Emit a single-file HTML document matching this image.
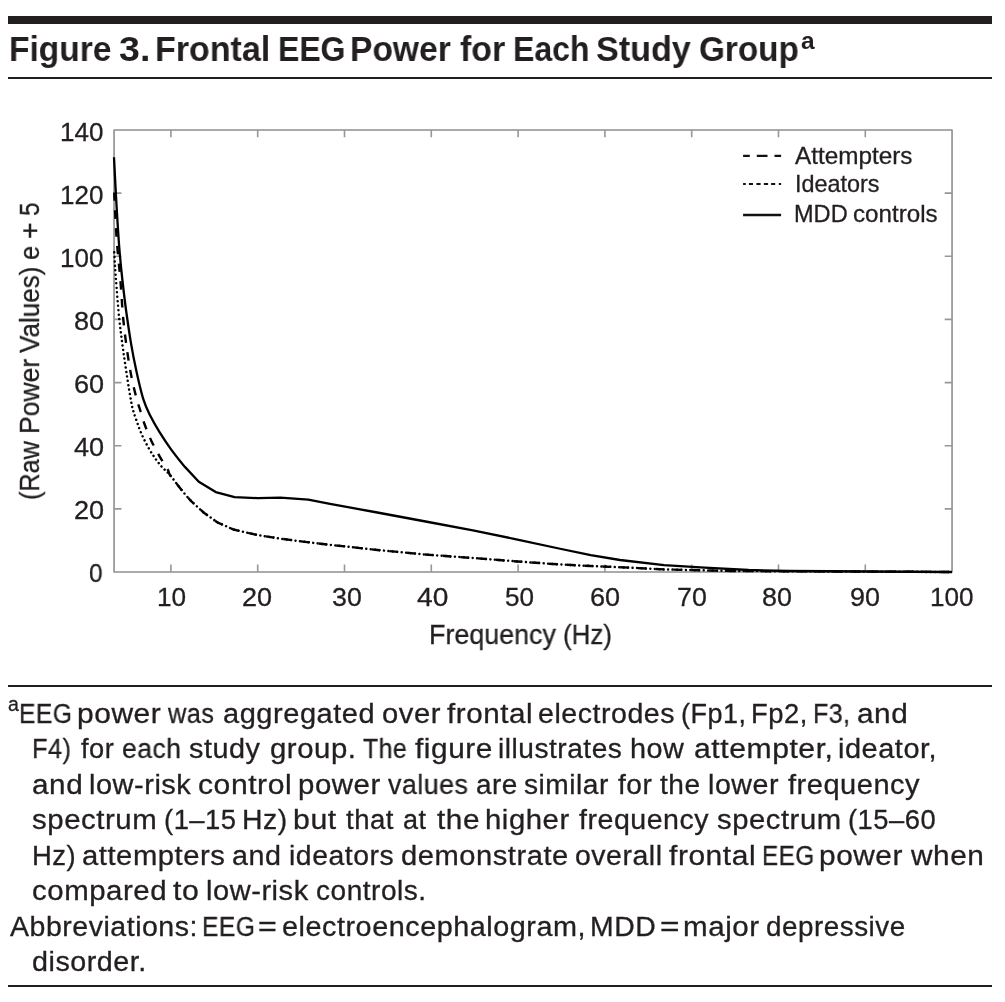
<!DOCTYPE html>
<html><head><meta charset="utf-8"><title>Figure 3</title>
<style>
html,body{margin:0;padding:0;background:#fff;}
body{width:1005px;height:1002px;position:relative;overflow:hidden;font-family:"Liberation Sans",sans-serif;color:#231f20;}
.t{position:absolute;white-space:nowrap;line-height:normal;margin:0;padding:0;will-change:transform;-webkit-text-stroke:0.3px #231f20;}
.sup{position:relative;}
.bar{position:absolute;left:8px;width:983.5px;background:#231f20;}
.yl{position:absolute;left:0;top:500px;width:320px;height:60px;transform:rotate(-90deg);transform-origin:0 0;}
svg{position:absolute;left:0;top:0;}
</style></head><body>
<div class="bar" style="top:16px;height:8px;"></div>
<div class="bar" style="top:76.8px;height:2px;"></div>
<div class="bar" style="top:685.3px;height:2px;"></div>
<div class="bar" style="top:985.3px;height:2px;"></div>
<svg width="1005" height="1002" viewBox="0 0 1005 1002">
<rect x="114.05" y="129.95" width="838.0" height="442.1" fill="none" stroke="#8e8e8e" stroke-width="1.6" stroke-linejoin="round"/>
<path d="M170.9,572.0 v-7.4 M170.9,129.95 v7.4" stroke="#979797" stroke-width="1.6" fill="none"/>
<path d="M257.7,572.0 v-7.4 M257.7,129.95 v7.4" stroke="#979797" stroke-width="1.6" fill="none"/>
<path d="M344.5,572.0 v-7.4 M344.5,129.95 v7.4" stroke="#979797" stroke-width="1.6" fill="none"/>
<path d="M431.3,572.0 v-7.4 M431.3,129.95 v7.4" stroke="#979797" stroke-width="1.6" fill="none"/>
<path d="M518.1,572.0 v-7.4 M518.1,129.95 v7.4" stroke="#979797" stroke-width="1.6" fill="none"/>
<path d="M604.9,572.0 v-7.4 M604.9,129.95 v7.4" stroke="#979797" stroke-width="1.6" fill="none"/>
<path d="M691.7,572.0 v-7.4 M691.7,129.95 v7.4" stroke="#979797" stroke-width="1.6" fill="none"/>
<path d="M778.5,572.0 v-7.4 M778.5,129.95 v7.4" stroke="#979797" stroke-width="1.6" fill="none"/>
<path d="M865.3,572.0 v-7.4 M865.3,129.95 v7.4" stroke="#979797" stroke-width="1.6" fill="none"/>
<path d="M114.05,508.9 h7.4 M952.08,508.9 h-7.4" stroke="#979797" stroke-width="1.6" fill="none"/>
<path d="M114.05,445.7 h7.4 M952.08,445.7 h-7.4" stroke="#979797" stroke-width="1.6" fill="none"/>
<path d="M114.05,382.6 h7.4 M952.08,382.6 h-7.4" stroke="#979797" stroke-width="1.6" fill="none"/>
<path d="M114.05,319.4 h7.4 M952.08,319.4 h-7.4" stroke="#979797" stroke-width="1.6" fill="none"/>
<path d="M114.05,256.2 h7.4 M952.08,256.2 h-7.4" stroke="#979797" stroke-width="1.6" fill="none"/>
<path d="M114.05,193.1 h7.4 M952.08,193.1 h-7.4" stroke="#979797" stroke-width="1.6" fill="none"/>
<path d="M114.0,248.5 C114.2,251.2 114.7,259.8 115.0,265.0 C115.3,270.2 115.3,271.1 116.0,280.0 C116.7,288.9 118.0,306.6 119.2,318.3 C120.4,330.0 121.8,339.7 123.2,350.3 C124.7,360.9 126.6,373.8 127.9,382.2 C129.2,390.6 130.2,395.9 131.0,400.5 C131.8,405.1 132.0,406.4 133.0,410.0 C134.0,413.6 135.6,418.0 137.0,422.0 C138.4,426.0 139.7,429.8 141.5,433.9 C143.3,438.0 145.8,442.9 148.0,446.9 C150.2,450.9 152.6,454.6 154.9,457.9 C157.2,461.2 159.4,464.1 161.9,466.9 C164.4,469.7 166.9,471.4 169.9,474.9 C172.9,478.4 176.2,483.2 179.8,487.7 C183.4,492.1 187.7,497.5 191.7,501.6 L203.6,512.5 L217.6,522.5 L233.5,529.5 L257.4,535.0 L281.2,538.8 L309.1,542.4 L330.0,544.8 L377.3,550.0 L428.3,554.8 L472.9,558.0 L517.5,561.5 L558.9,564.4 L590.7,566.0 L620.0,567.2 L664.0,569.4 L731.6,571.0 L952.0,572.0" fill="none" stroke="#000" stroke-width="2.5" stroke-linecap="round" stroke-dasharray="0.01 4.44" stroke-dashoffset="-3.95"/>
<path d="M114.0,188.7 C114.4,195.9 115.5,220.4 116.2,232.0 C116.9,243.6 117.6,250.0 118.3,258.0 C119.0,266.0 119.6,269.9 120.4,280.0 C121.2,290.1 122.1,306.6 123.2,318.3 C124.3,330.0 125.6,340.2 127.1,350.3 C128.5,360.4 130.2,370.7 131.9,379.0 C133.6,387.3 135.7,395.2 137.0,400.0 C138.3,404.8 138.2,404.0 139.5,408.0 C140.8,412.0 142.5,418.5 144.5,424.0 C146.5,429.5 148.8,435.4 151.4,440.9 C154.0,446.4 157.2,452.1 159.9,456.9 C162.7,461.7 166.2,466.9 167.9,469.9 C169.6,472.9 167.9,471.9 169.9,474.9 C171.9,477.9 176.2,483.2 179.8,487.7 C183.4,492.1 187.7,497.5 191.7,501.6 L203.6,512.5 L217.6,522.5 L233.5,529.5 L257.4,535.0 L281.2,538.8 L309.1,542.4 L330.0,544.8 L377.3,550.0 L428.3,554.8 L472.9,558.0 L517.5,561.5 L558.9,564.4 L590.7,566.0 L620.0,567.2 L664.0,569.4 L731.6,571.0 L952.0,572.0" fill="none" stroke="#000" stroke-width="2.4" stroke-dasharray="8.5 9.3" stroke-dashoffset="-3.8"/>
<path d="M114.0,157.2 C114.4,165.2 115.6,189.9 116.5,205.0 C117.4,220.1 118.3,235.5 119.3,248.0 C120.3,260.5 121.2,269.3 122.4,280.0 C123.6,290.7 124.8,301.4 126.3,312.0 C127.8,322.6 129.4,333.8 131.1,343.9 C132.8,354.0 134.7,363.4 136.7,372.6 C138.7,381.8 141.1,392.1 143.3,399.2 C145.5,406.3 147.2,409.6 149.9,415.0 C152.6,420.4 155.8,426.1 159.4,431.9 C163.0,437.7 167.2,444.1 171.4,449.9 C175.7,455.7 180.3,461.6 184.9,466.9 L198.8,481.8 L215.7,492.1 L234.6,497.1 L257.5,498.1 L280.4,497.7 L308.3,499.7 L330.0,503.8 L377.3,512.5 L428.3,522.0 L472.9,530.3 L517.5,539.6 L558.9,548.5 L590.7,555.2 L620.0,560.0 L664.0,565.2 L704.6,567.7 L748.6,570.0 L789.0,571.0 L952.0,572.0" fill="none" stroke="#000" stroke-width="2.3" stroke-linejoin="round"/>
<path d="M743.1,155.9 H749.8 M756.8,155.9 H767.5 M774.5,155.9 H781.1" stroke="#111" stroke-width="2.1" fill="none"/>
<path d="M743.1,183.9 H745.8 M748.9,183.9 H753 M756.4,183.9 H760.6 M763.9,183.9 H768.1 M771.1,183.9 H775.2 M778.8,183.9 H781.1" stroke="#111" stroke-width="2.0" fill="none"/>
<path d="M743.1,215 H781.1" stroke="#111" stroke-width="2.4" fill="none"/>
</svg>
<div class="t" style="top:29.27px;font-size:35.5px;left:8.51px;font-weight:bold;-webkit-text-stroke:0;transform:scaleX(0.9438);transform-origin:0 0;">Figure</div>
<div class="t" style="top:29.27px;font-size:35.5px;left:118.54px;font-weight:bold;-webkit-text-stroke:0;transform:scaleX(1.0577);transform-origin:0 0;">3.</div>
<div class="t" style="top:29.27px;font-size:35.5px;left:154.78px;font-weight:bold;-webkit-text-stroke:0;transform:scaleX(0.9578);transform-origin:0 0;">Frontal</div>
<div class="t" style="top:29.27px;font-size:35.5px;left:277.55px;font-weight:bold;-webkit-text-stroke:0;transform:scaleX(0.9000);transform-origin:0 0;">EEG</div>
<div class="t" style="top:29.27px;font-size:35.5px;left:349.81px;font-weight:bold;-webkit-text-stroke:0;transform:scaleX(0.9462);transform-origin:0 0;">Power</div>
<div class="t" style="top:29.27px;font-size:35.5px;left:459.84px;font-weight:bold;-webkit-text-stroke:0;transform:scaleX(0.9565);transform-origin:0 0;">for</div>
<div class="t" style="top:29.27px;font-size:35.5px;left:512.60px;font-weight:bold;-webkit-text-stroke:0;transform:scaleX(0.9000);transform-origin:0 0;">Each</div>
<div class="t" style="top:29.27px;font-size:35.5px;left:596.24px;font-weight:bold;-webkit-text-stroke:0;transform:scaleX(0.9619);transform-origin:0 0;">Study</div>
<div class="t" style="top:29.27px;font-size:35.5px;left:699.26px;font-weight:bold;-webkit-text-stroke:0;transform:scaleX(0.9385);transform-origin:0 0;">Group</div>
<div class="t" style="top:26.93px;font-size:24.5px;left:800.60px;font-weight:bold;-webkit-text-stroke:0;">a</div>
<div class="t" style="top:558.42px;font-size:26px;left:89.26px;transform:scaleX(0.9385);transform-origin:0 0;">0</div>
<div class="t" style="top:495.35px;font-size:26px;left:73.86px;transform:scaleX(1.0407);transform-origin:0 0;">20</div>
<div class="t" style="top:432.28px;font-size:26px;left:73.86px;transform:scaleX(1.0407);transform-origin:0 0;">40</div>
<div class="t" style="top:369.21px;font-size:26px;left:73.86px;transform:scaleX(1.0407);transform-origin:0 0;">60</div>
<div class="t" style="top:306.13px;font-size:26px;left:73.86px;transform:scaleX(1.0407);transform-origin:0 0;">80</div>
<div class="t" style="top:243.06px;font-size:26px;left:60.00px;transform:scaleX(1.0000);transform-origin:0 0;">100</div>
<div class="t" style="top:179.99px;font-size:26px;left:60.00px;transform:scaleX(1.0000);transform-origin:0 0;">120</div>
<div class="t" style="top:116.92px;font-size:26px;left:60.00px;transform:scaleX(1.0000);transform-origin:0 0;">140</div>
<div class="t" style="top:582.37px;font-size:26px;left:156.58px;transform:scaleX(1.0077);transform-origin:0 0;">10</div>
<div class="t" style="top:582.37px;font-size:26px;left:242.16px;transform:scaleX(1.0407);transform-origin:0 0;">20</div>
<div class="t" style="top:582.37px;font-size:26px;left:331.77px;transform:scaleX(1.0296);transform-origin:0 0;">30</div>
<div class="t" style="top:582.37px;font-size:26px;left:417.02px;transform:scaleX(1.0815);transform-origin:0 0;">40</div>
<div class="t" style="top:582.37px;font-size:26px;left:505.40px;transform:scaleX(1.0037);transform-origin:0 0;">50</div>
<div class="t" style="top:582.37px;font-size:26px;left:589.56px;transform:scaleX(1.0407);transform-origin:0 0;">60</div>
<div class="t" style="top:582.37px;font-size:26px;left:677.47px;transform:scaleX(1.0296);transform-origin:0 0;">70</div>
<div class="t" style="top:582.37px;font-size:26px;left:761.77px;transform:scaleX(1.0333);transform-origin:0 0;">80</div>
<div class="t" style="top:582.37px;font-size:26px;left:850.06px;transform:scaleX(1.0370);transform-origin:0 0;">90</div>
<div class="t" style="top:582.37px;font-size:26px;left:930.39px;transform:scaleX(1.0049);transform-origin:0 0;">100</div>
<div class="t" style="top:619.57px;font-size:27px;left:428.91px;transform:scaleX(0.9952);transform-origin:0 0;">Frequency</div>
<div class="t" style="top:619.57px;font-size:27px;left:562.98px;transform:scaleX(0.9596);transform-origin:0 0;">(Hz)</div>
<div class="t" style="top:142.50px;font-size:23.2px;left:795.20px;transform:scaleX(1.0477);transform-origin:0 0;">Attempters</div>
<div class="t" style="top:171.30px;font-size:23.2px;left:794.58px;transform:scaleX(1.0086);transform-origin:0 0;">Ideators</div>
<div class="t" style="top:200.50px;font-size:23.2px;left:794.17px;transform:scaleX(1.0160);transform-origin:0 0;">MDD</div>
<div class="t" style="top:200.50px;font-size:23.2px;left:852.86px;transform:scaleX(1.0418);transform-origin:0 0;">controls</div>
<div class="t" style="top:698.66px;font-size:27px;left:18.87px;letter-spacing:0.500px;transform:scaleX(0.9130);transform-origin:0 0;">EEG</div>
<div class="t" style="top:698.66px;font-size:27px;left:76.78px;letter-spacing:0.500px;transform:scaleX(1.1096);transform-origin:0 0;">power</div>
<div class="t" style="top:698.66px;font-size:27px;left:168.30px;letter-spacing:0.500px;transform:scaleX(0.9375);transform-origin:0 0;">was</div>
<div class="t" style="top:698.66px;font-size:27px;left:222.93px;letter-spacing:0.500px;transform:scaleX(1.0746);transform-origin:0 0;">aggregated</div>
<div class="t" style="top:698.66px;font-size:27px;left:381.62px;letter-spacing:0.500px;transform:scaleX(1.0811);transform-origin:0 0;">over</div>
<div class="t" style="top:698.66px;font-size:27px;left:446.70px;letter-spacing:0.500px;transform:scaleX(1.0961);transform-origin:0 0;">frontal</div>
<div class="t" style="top:698.66px;font-size:27px;left:537.94px;letter-spacing:0.500px;transform:scaleX(1.0575);transform-origin:0 0;">electrodes</div>
<div class="t" style="top:698.66px;font-size:27px;left:681.31px;letter-spacing:0.500px;transform:scaleX(0.9951);transform-origin:0 0;">(Fp1,</div>
<div class="t" style="top:698.66px;font-size:27px;left:751.27px;letter-spacing:0.500px;transform:scaleX(1.0137);transform-origin:0 0;">Fp2,</div>
<div class="t" style="top:698.66px;font-size:27px;left:813.15px;letter-spacing:0.500px;transform:scaleX(0.9250);transform-origin:0 0;">F3,</div>
<div class="t" style="top:698.66px;font-size:27px;left:857.20px;letter-spacing:0.500px;transform:scaleX(1.1023);transform-origin:0 0;">and</div>
<div class="t" style="top:734.16px;font-size:27px;left:32.42px;letter-spacing:0.500px;transform:scaleX(0.9395);transform-origin:0 0;">F4)</div>
<div class="t" style="top:734.16px;font-size:27px;left:81.00px;letter-spacing:0.500px;transform:scaleX(1.0094);transform-origin:0 0;">for</div>
<div class="t" style="top:734.16px;font-size:27px;left:122.32px;letter-spacing:0.500px;transform:scaleX(0.9825);transform-origin:0 0;">each</div>
<div class="t" style="top:734.16px;font-size:27px;left:188.93px;letter-spacing:0.500px;transform:scaleX(1.0662);transform-origin:0 0;">study</div>
<div class="t" style="top:734.16px;font-size:27px;left:269.61px;letter-spacing:0.500px;transform:scaleX(1.0868);transform-origin:0 0;">group.</div>
<div class="t" style="top:734.16px;font-size:27px;left:363.38px;letter-spacing:0.500px;transform:scaleX(0.9200);transform-origin:0 0;">The</div>
<div class="t" style="top:734.16px;font-size:27px;left:415.00px;letter-spacing:0.500px;transform:scaleX(1.1043);transform-origin:0 0;">figure</div>
<div class="t" style="top:734.16px;font-size:27px;left:498.22px;letter-spacing:0.500px;transform:scaleX(1.0405);transform-origin:0 0;">illustrates</div>
<div class="t" style="top:734.16px;font-size:27px;left:629.57px;letter-spacing:0.500px;transform:scaleX(1.0673);transform-origin:0 0;">how</div>
<div class="t" style="top:734.16px;font-size:27px;left:693.88px;letter-spacing:0.500px;transform:scaleX(1.1157);transform-origin:0 0;">attempter,</div>
<div class="t" style="top:734.16px;font-size:27px;left:837.86px;letter-spacing:0.500px;transform:scaleX(1.0716);transform-origin:0 0;">ideator,</div>
<div class="t" style="top:769.66px;font-size:27px;left:32.40px;letter-spacing:0.500px;transform:scaleX(1.1000);transform-origin:0 0;">and</div>
<div class="t" style="top:769.66px;font-size:27px;left:88.66px;letter-spacing:0.500px;transform:scaleX(1.0720);transform-origin:0 0;">low-risk</div>
<div class="t" style="top:769.66px;font-size:27px;left:197.89px;letter-spacing:0.500px;transform:scaleX(1.1148);transform-origin:0 0;">control</div>
<div class="t" style="top:769.66px;font-size:27px;left:297.62px;letter-spacing:0.500px;transform:scaleX(1.0890);transform-origin:0 0;">power</div>
<div class="t" style="top:769.66px;font-size:27px;left:388.30px;letter-spacing:0.500px;transform:scaleX(0.9925);transform-origin:0 0;">values</div>
<div class="t" style="top:769.66px;font-size:27px;left:475.67px;letter-spacing:0.500px;transform:scaleX(1.0342);transform-origin:0 0;">are</div>
<div class="t" style="top:769.66px;font-size:27px;left:523.96px;letter-spacing:0.500px;transform:scaleX(1.0412);transform-origin:0 0;">similar</div>
<div class="t" style="top:769.66px;font-size:27px;left:617.70px;letter-spacing:0.500px;transform:scaleX(1.0406);transform-origin:0 0;">for</div>
<div class="t" style="top:769.66px;font-size:27px;left:660.00px;letter-spacing:0.500px;transform:scaleX(1.0405);transform-origin:0 0;">the</div>
<div class="t" style="top:769.66px;font-size:27px;left:708.38px;letter-spacing:0.500px;transform:scaleX(1.0594);transform-origin:0 0;">lower</div>
<div class="t" style="top:769.66px;font-size:27px;left:788.30px;letter-spacing:0.500px;transform:scaleX(1.0738);transform-origin:0 0;">frequency</div>
<div class="t" style="top:805.16px;font-size:27px;left:32.41px;letter-spacing:0.500px;transform:scaleX(1.0893);transform-origin:0 0;">spectrum</div>
<div class="t" style="top:805.16px;font-size:27px;left:163.97px;letter-spacing:0.500px;transform:scaleX(1.0147);transform-origin:0 0;">(1–15</div>
<div class="t" style="top:805.16px;font-size:27px;left:241.90px;letter-spacing:0.500px;transform:scaleX(1.0513);transform-origin:0 0;">Hz)</div>
<div class="t" style="top:805.16px;font-size:27px;left:293.20px;letter-spacing:0.500px;transform:scaleX(1.1200);transform-origin:0 0;">but</div>
<div class="t" style="top:805.16px;font-size:27px;left:346.20px;letter-spacing:0.500px;transform:scaleX(1.0196);transform-origin:0 0;">that</div>
<div class="t" style="top:805.16px;font-size:27px;left:403.10px;letter-spacing:0.500px;transform:scaleX(0.9955);transform-origin:0 0;">at</div>
<div class="t" style="top:805.16px;font-size:27px;left:437.40px;letter-spacing:0.500px;transform:scaleX(1.1027);transform-origin:0 0;">the</div>
<div class="t" style="top:805.16px;font-size:27px;left:485.03px;letter-spacing:0.500px;transform:scaleX(1.0853);transform-origin:0 0;">higher</div>
<div class="t" style="top:805.16px;font-size:27px;left:578.50px;letter-spacing:0.500px;transform:scaleX(1.0574);transform-origin:0 0;">frequency</div>
<div class="t" style="top:805.16px;font-size:27px;left:716.62px;letter-spacing:0.500px;transform:scaleX(1.0830);transform-origin:0 0;">spectrum</div>
<div class="t" style="top:805.16px;font-size:27px;left:847.98px;letter-spacing:0.500px;transform:scaleX(1.0119);transform-origin:0 0;">(15–60</div>
<div class="t" style="top:840.66px;font-size:27px;left:32.26px;letter-spacing:0.500px;transform:scaleX(1.0179);transform-origin:0 0;">Hz)</div>
<div class="t" style="top:840.66px;font-size:27px;left:82.22px;letter-spacing:0.500px;transform:scaleX(1.0823);transform-origin:0 0;">attempters</div>
<div class="t" style="top:840.66px;font-size:27px;left:232.24px;letter-spacing:0.500px;transform:scaleX(1.0628);transform-origin:0 0;">and</div>
<div class="t" style="top:840.66px;font-size:27px;left:288.70px;letter-spacing:0.500px;transform:scaleX(1.0505);transform-origin:0 0;">ideators</div>
<div class="t" style="top:840.66px;font-size:27px;left:400.62px;letter-spacing:0.500px;transform:scaleX(1.0784);transform-origin:0 0;">demonstrate</div>
<div class="t" style="top:840.66px;font-size:27px;left:574.65px;letter-spacing:0.500px;transform:scaleX(1.0537);transform-origin:0 0;">overall</div>
<div class="t" style="top:840.66px;font-size:27px;left:669.00px;letter-spacing:0.500px;transform:scaleX(1.1092);transform-origin:0 0;">frontal</div>
<div class="t" style="top:840.66px;font-size:27px;left:762.30px;letter-spacing:0.500px;transform:scaleX(0.9000);transform-origin:0 0;">EEG</div>
<div class="t" style="top:840.66px;font-size:27px;left:819.49px;letter-spacing:0.500px;transform:scaleX(1.1041);transform-origin:0 0;">power</div>
<div class="t" style="top:840.66px;font-size:27px;left:910.70px;letter-spacing:0.500px;transform:scaleX(1.1031);transform-origin:0 0;">when</div>
<div class="t" style="top:876.16px;font-size:27px;left:32.21px;letter-spacing:0.500px;transform:scaleX(1.0884);transform-origin:0 0;">compared</div>
<div class="t" style="top:876.16px;font-size:27px;left:173.48px;letter-spacing:0.500px;transform:scaleX(1.1200);transform-origin:0 0;">to</div>
<div class="t" style="top:876.16px;font-size:27px;left:206.15px;letter-spacing:0.500px;transform:scaleX(1.0753);transform-origin:0 0;">low-risk</div>
<div class="t" style="top:876.16px;font-size:27px;left:316.26px;letter-spacing:0.500px;transform:scaleX(1.0388);transform-origin:0 0;">controls.</div>
<div class="t" style="top:911.66px;font-size:27px;left:10.30px;letter-spacing:0.500px;transform:scaleX(1.0554);transform-origin:0 0;">Abbreviations:</div>
<div class="t" style="top:911.66px;font-size:27px;left:202.17px;letter-spacing:0.500px;transform:scaleX(0.9130);transform-origin:0 0;">EEG</div>
<div class="t" style="top:911.66px;font-size:27px;left:258.11px;letter-spacing:0.500px;transform:scaleX(1.1929);transform-origin:0 0;">=</div>
<div class="t" style="top:911.66px;font-size:27px;left:281.63px;letter-spacing:0.500px;transform:scaleX(1.0662);transform-origin:0 0;">electroencephalogram,</div>
<div class="t" style="top:911.66px;font-size:27px;left:589.60px;letter-spacing:0.500px;transform:scaleX(1.0508);transform-origin:0 0;">MDD</div>
<div class="t" style="top:911.66px;font-size:27px;left:659.76px;letter-spacing:0.500px;transform:scaleX(1.2357);transform-origin:0 0;">=</div>
<div class="t" style="top:911.66px;font-size:27px;left:682.81px;letter-spacing:0.500px;transform:scaleX(1.0940);transform-origin:0 0;">major</div>
<div class="t" style="top:911.66px;font-size:27px;left:766.27px;letter-spacing:0.500px;transform:scaleX(1.0301);transform-origin:0 0;">depressive</div>
<div class="t" style="top:947.16px;font-size:27px;left:32.44px;letter-spacing:0.500px;transform:scaleX(1.0625);transform-origin:0 0;">disorder.</div>
<div class="t" style="top:693.15px;font-size:19.5px;left:7.60px;">a</div>
<div class="yl"><div class="t" style="top:14.96px;font-size:27px;left:-0.47px;transform:scaleX(0.9344);transform-origin:0 0;">(Raw</div><div class="t" style="top:14.96px;font-size:27px;left:66.04px;transform:scaleX(0.9824);transform-origin:0 0;">Power</div><div class="t" style="top:14.96px;font-size:27px;left:146.60px;transform:scaleX(0.9659);transform-origin:0 0;">Values)</div><div class="t" style="top:14.96px;font-size:27px;left:240.35px;transform:scaleX(0.9462);transform-origin:0 0;">e</div><div class="t" style="top:14.96px;font-size:27px;left:260.85px;transform:scaleX(1.0500);transform-origin:0 0;">+</div><div class="t" style="top:14.96px;font-size:27px;left:284.00px;transform:scaleX(0.9000);transform-origin:0 0;">5</div></div>
</body></html>
